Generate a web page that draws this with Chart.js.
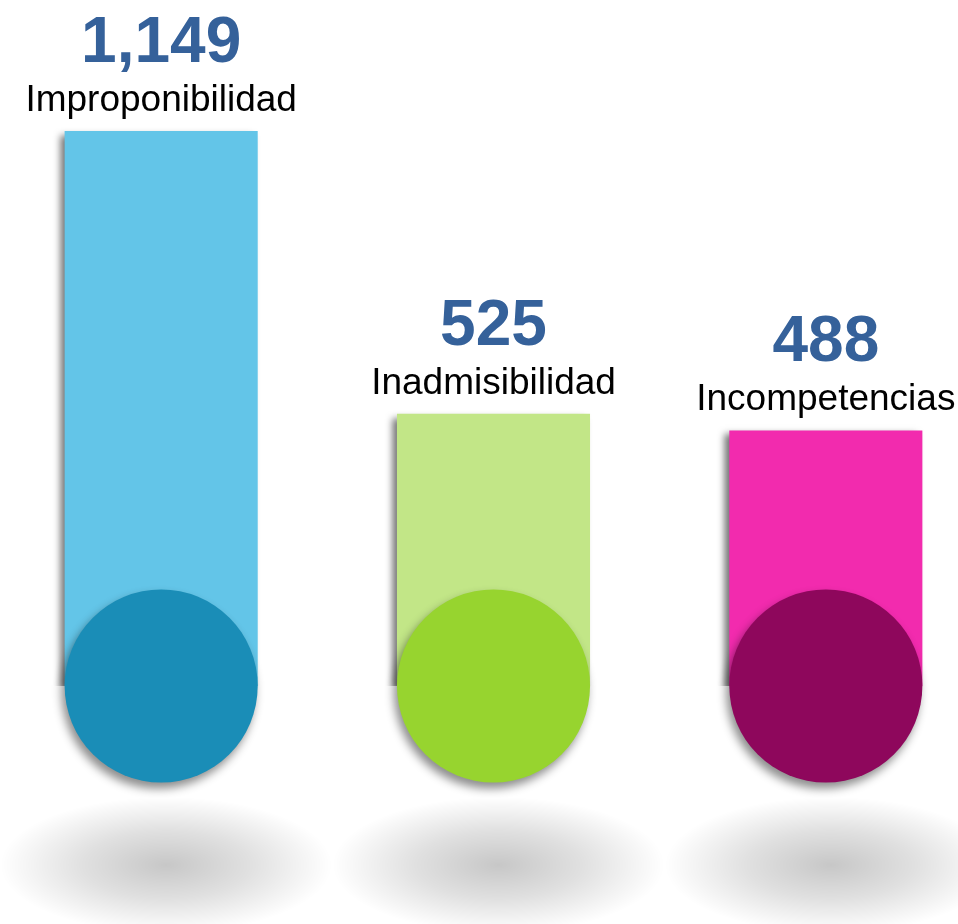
<!DOCTYPE html>
<html>
<head>
<meta charset="utf-8">
<script src="https://cdn.jsdelivr.net/npm/chart.js@4"></script>
<style>
  html, body { margin: 0; padding: 0; background: #fff; overflow: hidden; }
  #wrap { position: absolute; left: -5px; top: 0; width: 997px; height: 924px; }
</style>
</head>
<body>
<div id="wrap"><canvas id="barChart"></canvas></div>
<script>
const categories = ['Improponibilidad', 'Inadmisibilidad', 'Incompetencias'];
const values = [1149, 525, 488];
const valueLabels = ['1,149', '525', '488'];
const barColors = ['#63C5E8', '#C2E687', '#F22BAE'];
const circleColors = ['#1A8DB7', '#97D42F', '#8E075C'];

// soft shadow on the left of each bar
const barShadow = {
    id: 'barShadow',
    beforeDatasetDraw(chart) {
        const c = chart.ctx;
        c.save();
        c.shadowColor = 'rgba(0, 0, 0, 0.55)';
        c.shadowBlur = 7;
        c.shadowOffsetX = -5;
        c.shadowOffsetY = 4;
    },
    afterDatasetDraw(chart) {
        chart.ctx.restore();
    }
};

// grey floor shadows, circles at the foot of the bars and the labels
const decorations = {
    id: 'decorations',
    beforeDatasetsDraw(chart) {
        const c = chart.ctx;
        chart.getDatasetMeta(0).data.forEach(bar => {
            const cx = bar.x + 5, cy = 865, rx = 166, ry = 68;
            c.save();
            c.translate(cx, cy);
            c.scale(1, ry / rx);
            const g = c.createRadialGradient(0, 0, 0, 0, 0, rx);
            g.addColorStop(0, 'rgba(0, 0, 0, 0.22)');
            g.addColorStop(0.5, 'rgba(0, 0, 0, 0.12)');
            g.addColorStop(1, 'rgba(0, 0, 0, 0)');
            c.fillStyle = g;
            c.beginPath();
            c.arc(0, 0, rx, 0, Math.PI * 2);
            c.fill();
            c.restore();
        });
    },
    afterDatasetsDraw(chart) {
        const c = chart.ctx;
        const area = chart.chartArea;
        chart.getDatasetMeta(0).data.forEach((bar, i) => {
            const r = bar.width / 2;
            c.save();
            c.shadowColor = 'rgba(0, 0, 0, 0.45)';
            c.shadowBlur = 10;
            c.shadowOffsetX = -3;
            c.shadowOffsetY = 6;
            c.fillStyle = circleColors[i];
            c.beginPath();
            c.arc(bar.x, area.bottom, r, 0, Math.PI * 2);
            c.fill();
            c.restore();

            c.save();
            c.textAlign = 'center';
            c.textBaseline = 'alphabetic';
            c.fillStyle = '#35619A';
            c.font = 'bold 64px "Liberation Sans", Arial, sans-serif';
            c.fillText(valueLabels[i], bar.x, bar.y - 69);
            c.fillStyle = '#000';
            c.font = '37px "Liberation Sans", Arial, sans-serif';
            c.fillText(categories[i], bar.x, bar.y - 20);
            c.restore();
        });
    }
};

new Chart(document.getElementById('barChart'), {
    type: 'bar',
    data: {
        labels: categories,
        datasets: [{
            data: values,
            backgroundColor: barColors,
            borderWidth: 0,
            barPercentage: 0.581,
            categoryPercentage: 1,
            base: -76
        }]
    },
    options: {
        responsive: true,
        maintainAspectRatio: false,
        animation: false,
        events: [],
        layout: { padding: { left: 0, right: 0, top: 0, bottom: 238 } },
        scales: {
            x: { display: false, offset: true },
            y: { display: false, min: -76, max: 1438 }
        },
        plugins: {
            legend: { display: false },
            tooltip: { enabled: false }
        }
    },
    plugins: [barShadow, decorations]
});
</script>
</body>
</html>
